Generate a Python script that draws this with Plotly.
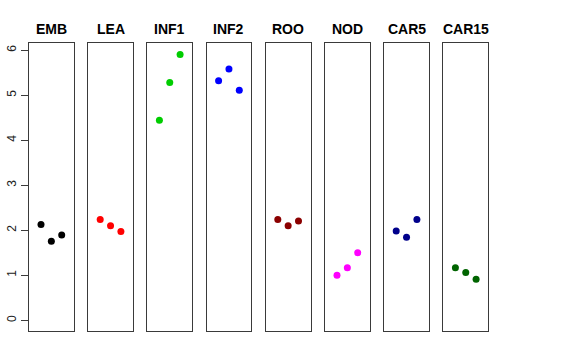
import plotly.graph_objects as go

tissues = ["EMB", "LEA", "INF1", "INF2", "ROO", "NOD", "CAR5", "CAR15"]
colors = ["#000000", "#FF0000", "#00CD00", "#0000FF", "#8B0000", "#FF00FF", "#00008B", "#006400"]
rep_x = [1, 2, 3]
values = {
    "EMB":   [2.125, 1.755, 1.895],
    "LEA":   [2.24, 2.10, 1.97],
    "INF1":  [4.44, 5.28, 5.90],
    "INF2":  [5.32, 5.58, 5.11],
    "ROO":   [2.24, 2.10, 2.205],
    "NOD":   [1.00, 1.17, 1.50],
    "CAR5":  [1.985, 1.845, 2.24],
    "CAR15": [1.165, 1.06, 0.91],
}
y_ticks = [0, 1, 2, 3, 4, 5, 6]

W, H = 576, 360
left0, pitch, pw = 29.0, 59.2, 44.7
top_px, bot_px = 43.0, 331.0
ydom = [1 - bot_px / H, 1 - top_px / H]
yrange = [-0.237, 6.157]
xrange = [-0.16, 4.16]

fig = go.Figure()
layout = dict(width=W, height=H, margin=dict(l=0, r=0, t=0, b=0, autoexpand=False),
              paper_bgcolor="white", plot_bgcolor="white", showlegend=False,
              font=dict(family="Liberation Sans, Arial, sans-serif", color="black"))
annotations = []
for i, t in enumerate(tissues):
    n = "" if i == 0 else str(i + 1)
    x0 = left0 + i * pitch
    dom = [x0 / W, (x0 + pw) / W]
    layout["xaxis" + n] = dict(domain=dom, range=xrange, showticklabels=False, ticks="",
                               showgrid=False, zeroline=False, showline=True, mirror=True,
                               linecolor="#3a3a3a", linewidth=1, anchor="y" + n, fixedrange=True,
                               automargin=False)
    yax = dict(domain=ydom, range=yrange, showgrid=False, zeroline=False, showline=True,
               mirror=True, linecolor="#3a3a3a", linewidth=1, anchor="x" + n, fixedrange=True,
               automargin=False)
    if i == 0:
        yax.update(tickvals=y_ticks, ticks="outside", ticklen=7, tickcolor="#3a3a3a",
                   tickangle=-90, tickfont=dict(size=12, color="#222"), ticklabelstandoff=0)
    else:
        yax.update(showticklabels=False, ticks="")
    layout["yaxis" + n] = yax
    fig.add_trace(go.Scatter(x=rep_x, y=values[t], mode="markers", xaxis="x" + n, yaxis="y" + n,
                             marker=dict(color=colors[i], size=7, line=dict(width=0)),
                             hoverinfo="skip"))
    annotations.append(dict(text="<b>" + t + "</b>", x=(dom[0] + dom[1]) / 2, y=1 - 29 / H,
                            xref="paper", yref="paper", showarrow=False,
                            font=dict(size=14, color="black"), xanchor="center", yanchor="middle"))
layout["annotations"] = annotations
fig.update_layout(**layout)
# remove the browser's default 8px body margin so the figure fills the window exactly
fig.write_html("out.html", config={"displayModeBar": False},
               post_script="document.body.style.margin='0';")
